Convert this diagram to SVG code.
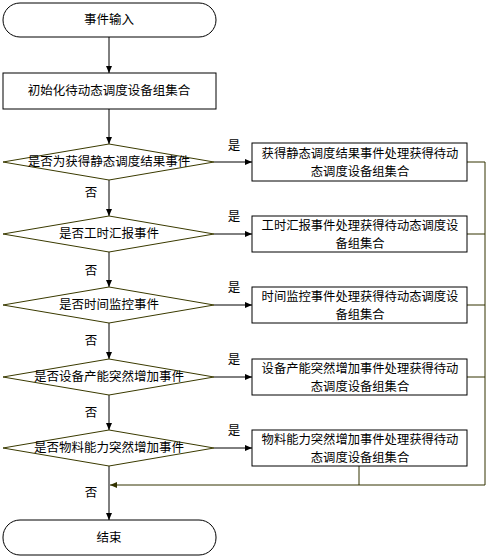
<svg xmlns="http://www.w3.org/2000/svg" width="493" height="557" viewBox="0 0 493 557">
<style>
text{font-family:"Noto Sans CJK SC","Liberation Sans",sans-serif;font-size:12.5px;fill:#000;}
.c{text-anchor:middle;}
.b{font-size:12.3px;}
.box{fill:#fff;stroke:#000;stroke-width:1;}
.dia{fill:#fff;stroke:#3a3a00;stroke-width:1;}
.ln{fill:none;stroke:#000;stroke-width:1;}
.ret{fill:none;stroke:#333300;stroke-width:1;}
</style>
<defs>
<marker id="ah" markerUnits="userSpaceOnUse" markerWidth="8" markerHeight="8" refX="7" refY="4" orient="auto">
<path d="M0,1 L7,4 L0,7 Z" fill="#000"/>
</marker>
<marker id="ah2" markerUnits="userSpaceOnUse" markerWidth="8" markerHeight="8" refX="7" refY="4" orient="auto">
<path d="M0,1 L7,4 L0,7 Z" fill="#333300"/>
</marker>
</defs>
<g id="connectors">
<line class="ln" x1="109" y1="37" x2="109" y2="73" marker-end="url(#ah)"/>
<line class="ln" x1="109" y1="109" x2="109" y2="144" marker-end="url(#ah)"/>
<line class="ln" x1="109" y1="180" x2="109" y2="216" marker-end="url(#ah)"/>
<line class="ln" x1="109" y1="252" x2="109" y2="287" marker-end="url(#ah)"/>
<line class="ln" x1="109" y1="323" x2="109" y2="359" marker-end="url(#ah)"/>
<line class="ln" x1="109" y1="395" x2="109" y2="430" marker-end="url(#ah)"/>
<line class="ln" x1="109" y1="466" x2="109" y2="520" marker-end="url(#ah)"/>
<line class="ln" x1="214" y1="162" x2="252" y2="162" marker-end="url(#ah)"/>
<line class="ln" x1="214" y1="234" x2="252" y2="234" marker-end="url(#ah)"/>
<line class="ln" x1="214" y1="305" x2="252" y2="305" marker-end="url(#ah)"/>
<line class="ln" x1="214" y1="377" x2="252" y2="377" marker-end="url(#ah)"/>
<line class="ln" x1="214" y1="448" x2="252" y2="448" marker-end="url(#ah)"/>
<polyline class="ret" points="467,162 485,162 485,485"/>
<line class="ret" x1="467" y1="234" x2="485" y2="234"/>
<line class="ret" x1="467" y1="305" x2="485" y2="305"/>
<line class="ret" x1="467" y1="377" x2="485" y2="377"/>
<line class="ret" x1="359" y1="466" x2="359" y2="485"/>
<line class="ret" x1="485" y1="485" x2="110" y2="485" marker-end="url(#ah2)"/>
<text x="234" y="150" class="c">是</text>
<text x="234" y="221" class="c">是</text>
<text x="234" y="292" class="c">是</text>
<text x="234" y="364" class="c">是</text>
<text x="234" y="435" class="c">是</text>
<text x="91" y="197" class="c">否</text>
<text x="91" y="275" class="c">否</text>
<text x="91" y="345" class="c">否</text>
<text x="91" y="417" class="c">否</text>
<text x="91" y="497" class="c">否</text>
</g>
<g id="start">
<rect class="box" x="3" y="3" width="213" height="34" rx="17" ry="17"/>
<text x="109" y="24" class="c">事件输入</text>
</g>
<g id="init">
<rect class="box" x="3" y="73" width="213" height="36"/>
<text x="109" y="95" class="c">初始化待动态调度设备组集合</text>
</g>
<g id="d1">
<polygon class="dia" points="109,144 214,162 109,180 3,162"/>
<text x="109" y="166" class="c">是否为获得静态调度结果事件</text>
</g>
<g id="d2">
<polygon class="dia" points="109,216 214,234 109,252 3,234"/>
<text x="109" y="238" class="c">是否工时汇报事件</text>
</g>
<g id="d3">
<polygon class="dia" points="109,287 214,305 109,323 3,305"/>
<text x="109" y="309" class="c">是否时间监控事件</text>
</g>
<g id="d4">
<polygon class="dia" points="109,359 214,377 109,395 3,377"/>
<text x="109" y="381" class="c">是否设备产能突然增加事件</text>
</g>
<g id="d5">
<polygon class="dia" points="109,430 214,448 109,466 3,448"/>
<text x="109" y="452" class="c">是否物料能力突然增加事件</text>
</g>
<g id="b1">
<rect class="box" x="252" y="143" width="215" height="38"/>
<text x="360" y="157.5" class="c b">获得静态调度结果事件处理获得待动</text>
<text x="360" y="175.5" class="c b">态调度设备组集合</text>
</g>
<g id="b2">
<rect class="box" x="252" y="216" width="215" height="36"/>
<text x="360" y="229.5" class="c b">工时汇报事件处理获得待动态调度设</text>
<text x="360" y="247.5" class="c b">备组集合</text>
</g>
<g id="b3">
<rect class="box" x="252" y="287" width="215" height="36"/>
<text x="360" y="300.5" class="c b">时间监控事件处理获得待动态调度设</text>
<text x="360" y="318.5" class="c b">备组集合</text>
</g>
<g id="b4">
<rect class="box" x="252" y="359" width="215" height="36"/>
<text x="360" y="372.5" class="c b">设备产能突然增加事件处理获得待动</text>
<text x="360" y="390.5" class="c b">态调度设备组集合</text>
</g>
<g id="b5">
<rect class="box" x="252" y="430" width="215" height="36"/>
<text x="360" y="443.5" class="c b">物料能力突然增加事件处理获得待动</text>
<text x="360" y="461.5" class="c b">态调度设备组集合</text>
</g>
<g id="end">
<rect class="box" x="3" y="520" width="213" height="35" rx="17" ry="17"/>
<text x="109" y="542" class="c">结束</text>
</g>
</svg>
